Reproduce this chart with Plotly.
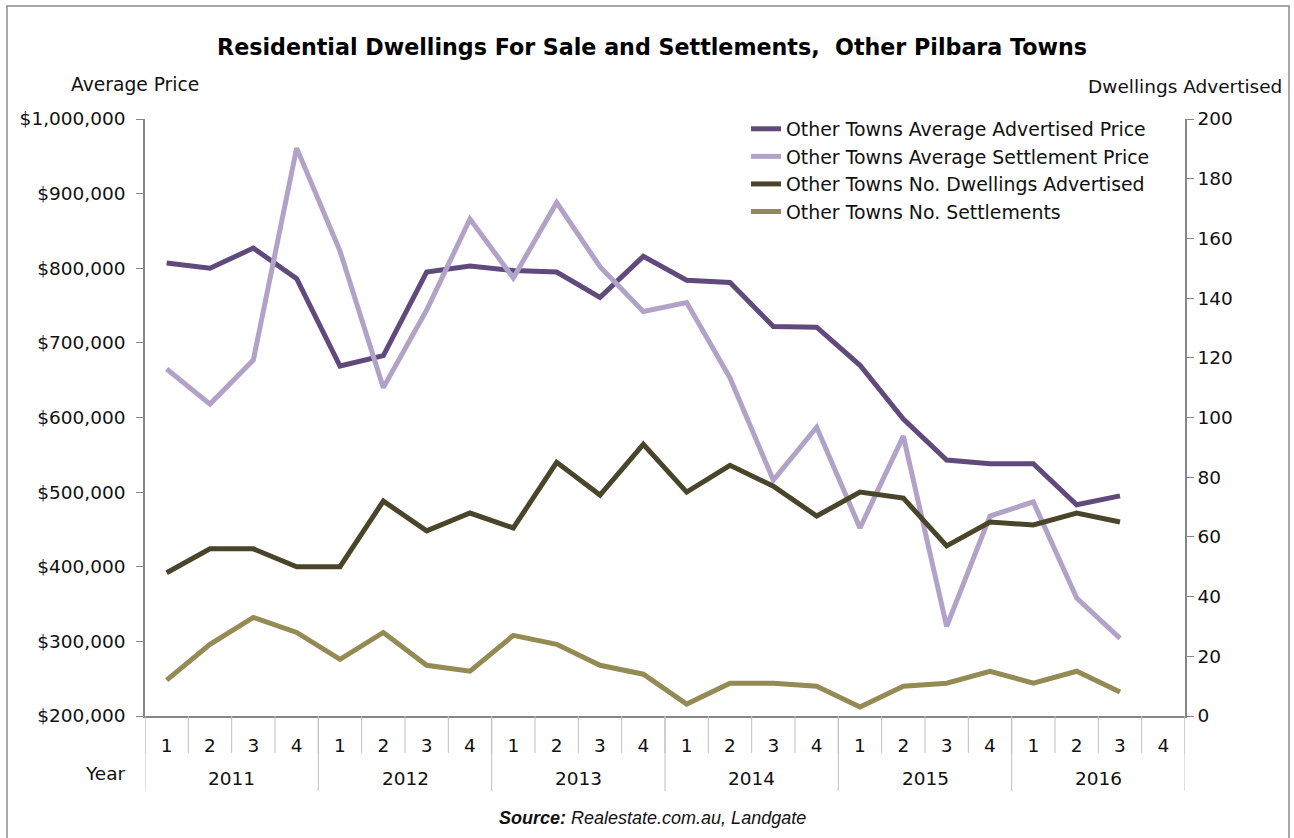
import plotly.graph_objects as go

# ---------------- data ----------------
years = ["2011"] * 4 + ["2012"] * 4 + ["2013"] * 4 + ["2014"] * 4 + ["2015"] * 4 + ["2016"] * 4
quarters = ["1", "2", "3", "4"] * 6

adv_price = [807000, 800000, 827000, 786000, 669000, 683000, 795000, 803000,
             797000, 795000, 761000, 816000, 784000, 781000, 722000, 721000,
             670000, 598000, 543000, 538000, 538000, 483000, 495000, None]
settle_price = [665000, 618000, 677000, 961000, 823000, 640000, 744000, 866000,
                787000, 888000, 802000, 742000, 754000, 653000, 516000, 587000,
                452000, 575000, 320000, 468000, 487000, 358000, 304000, None]
dwell_adv = [48, 56, 56, 50, 50, 72, 62, 68,
             63, 85, 74, 91, 75, 84, 77, 67,
             75, 73, 57, 65, 64, 68, 65, None]
settlements = [12, 24, 33, 28, 19, 28, 17, 15,
               27, 24, 17, 14, 4, 11, 11, 10,
               3, 10, 11, 15, 11, 15, 8, None]

names = ["Other Towns Average Advertised Price",
         "Other Towns Average Settlement Price",
         "Other Towns No. Dwellings Advertised",
         "Other Towns No. Settlements"]
colors = ["#604A7B", "#B3A2C7", "#4A452A", "#948A54"]

# ---------------- geometry helpers (pixel -> paper) ----------------
W, H = 1294, 838
L, R, T, B = 145, 1185, 119, 716
def px(X):
    return (X - L) / (R - L)
def py(Y):
    return (B - Y) / (B - T)

idx = list(range(len(quarters)))
boundaries = [i - 0.5 for i in idx] + [idx[-1] + 0.5]

fig = go.Figure()
series = [(adv_price, "y"), (settle_price, "y"), (dwell_adv, "y2"), (settlements, "y2")]
for (vals, ax), nm, col in zip(series, names, colors):
    fig.add_trace(go.Scatter(x=idx, y=vals, name=nm, yaxis=ax, mode="lines",
                             line=dict(color=col, width=5), connectgaps=False))

FONT = "DejaVu Sans, Verdana, sans-serif"
tickfont = dict(family=FONT, size=18.5, color="#111")
axcol = "#868686"
sepcol = "#BFBFBF"

annotations = []
shapes = []
# quarter separators at category boundaries
for b in boundaries:
    shapes.append(dict(type="line", xref="x", yref="paper", x0=b, x1=b,
                       y0=0, y1=py(753), line=dict(color=sepcol, width=1)))
# year labels and year separators, derived from the category arrays
year_names = []
for y in years:
    if y not in year_names:
        year_names.append(y)
for yn in year_names:
    pos = [i for i, y in enumerate(years) if y == yn]
    annotations.append(dict(text=yn, xref="x", yref="paper", x=sum(pos) / len(pos), y=py(779),
                            xanchor="center", yanchor="middle", showarrow=False,
                            font=dict(family=FONT, size=18.5, color="#111")))
    shapes.append(dict(type="line", xref="x", yref="paper", x0=pos[0] - 0.5, x1=pos[0] - 0.5,
                       y0=0, y1=py(791), line=dict(color=sepcol, width=1)))
shapes.append(dict(type="line", xref="x", yref="paper", x0=idx[-1] + 0.5, x1=idx[-1] + 0.5,
                   y0=0, y1=py(791), line=dict(color=sepcol, width=1)))

annotations += [
    dict(text="Average Price", xref="paper", yref="paper", x=px(135), y=py(84),
         xanchor="center", yanchor="middle", showarrow=False,
         font=dict(family=FONT, size=18.7, color="#111")),
    dict(text="Dwellings Advertised", xref="paper", yref="paper", x=px(1284), y=py(86),
         xanchor="right", yanchor="middle", showarrow=False,
         font=dict(family=FONT, size=18.5, color="#111")),
    dict(text="Year", xref="paper", yref="paper", x=px(128), y=py(773),
         xanchor="right", yanchor="middle", showarrow=False,
         font=dict(family=FONT, size=18.5, color="#111")),
    dict(text="<i><b>Source:</b> Realestate.com.au, Landgate</i>", xref="paper", yref="paper",
         x=px(652), y=py(818), xanchor="center", yanchor="middle", showarrow=False,
         font=dict(family="Liberation Sans, Arial, sans-serif", size=18, color="#111")),
]
shapes.append(dict(type="rect", xref="paper", yref="paper", x0=px(7), x1=px(1289),
                   y0=py(850), y1=py(6), line=dict(color="#8C8C8C", width=1.5), layer="below"))

fig.update_layout(
    width=W, height=H,
    margin=dict(l=L, r=W - R, t=T, b=H - B),
    paper_bgcolor="white", plot_bgcolor="white",
    showlegend=True,
    title=dict(text="<b>Residential Dwellings For Sale and Settlements,  Other Pilbara Towns</b>",
               x=652 / W, xanchor="center", y=1 - 47 / H, yanchor="middle",
               font=dict(family=FONT, size=22.2, color="#000")),
    legend=dict(x=px(746), y=py(110), xanchor="left", yanchor="top",
                bgcolor="rgba(0,0,0,0)", tracegroupgap=0, itemwidth=30,
                font=dict(family=FONT, size=18.9, color="#111")),
    xaxis=dict(range=[-0.5, idx[-1] + 0.5], tickmode="array", tickvals=idx, ticktext=quarters,
               showline=True, linecolor=axcol, linewidth=1.5,
               ticks="outside", ticklen=12, tickcolor="rgba(0,0,0,0)",
               showgrid=False, zeroline=False, tickfont=tickfont),
    yaxis=dict(range=[200000, 1000000], dtick=100000, tickprefix="$", tickformat=",d",
               showline=True, linecolor=axcol, linewidth=1.5, ticks="outside", ticklen=7,
               ticklabelstandoff=7,
               tickcolor=axcol, showgrid=False, zeroline=False, tickfont=tickfont),
    yaxis2=dict(range=[0, 200], dtick=20, overlaying="y", side="right",
                showline=True, linecolor=axcol, linewidth=1.5, ticks="outside", ticklen=7,
                tickcolor=axcol, showgrid=False, zeroline=False, tickfont=tickfont),
    annotations=annotations,
    shapes=shapes,
)

fig.write_html("out.html")
